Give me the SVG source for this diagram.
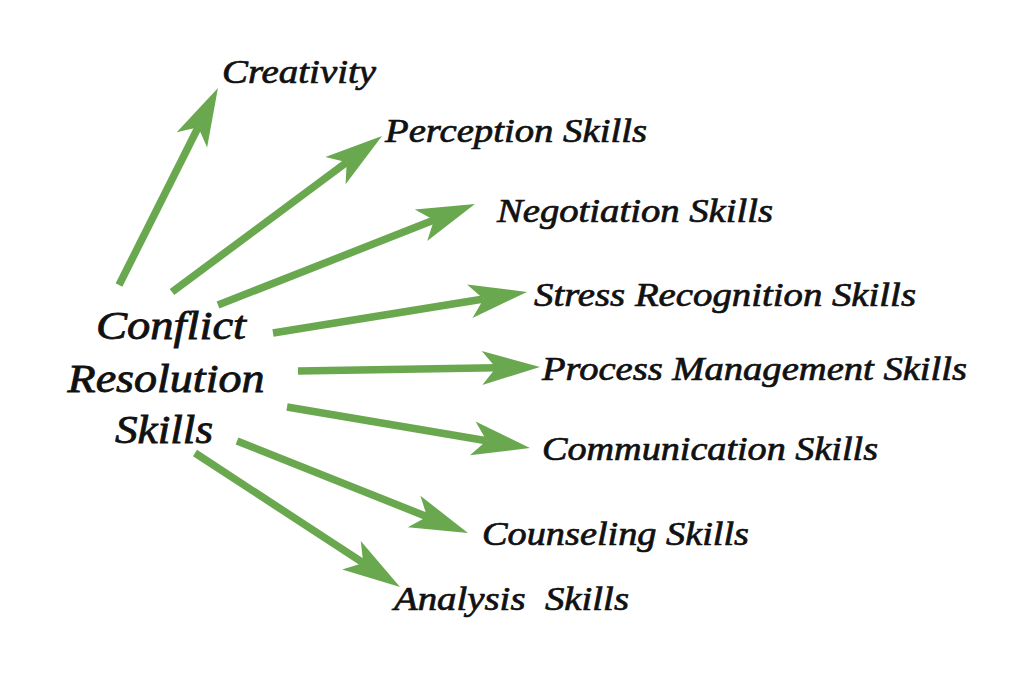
<svg xmlns="http://www.w3.org/2000/svg" width="1024" height="688" viewBox="0 0 1024 688">
<style>
.lbl{font-family:"Liberation Serif","Times New Roman",serif;font-style:italic;font-size:33px;fill:#111;stroke:#111;stroke-width:0.7;}
.ctr{font-family:"Liberation Serif","Times New Roman",serif;font-style:italic;font-size:39px;fill:#111;stroke:#111;stroke-width:0.8;text-anchor:middle;}
.arr{stroke:#6aa84f;stroke-width:7.5;fill:none;marker-end:url(#head);}
</style>
<defs>
<marker id="head" markerUnits="userSpaceOnUse" markerWidth="60" markerHeight="36" viewBox="0 -18 60 36" refX="14" refY="0" orient="auto" overflow="visible">
<path d="M0,-17 L58,0 L0,17 L14,0 Z" fill="#6aa84f"/>
</marker>
</defs>
<rect width="1024" height="688" fill="#ffffff"/>
<g id="connectors">
<line class="arr" x1="119" y1="285" x2="198.2" y2="127.3"/>
<line class="arr" x1="172" y1="292" x2="346.7" y2="162.2"/>
<line class="arr" x1="218" y1="305" x2="434" y2="220.1"/>
<line class="arr" x1="273" y1="333" x2="483.6" y2="299"/>
<line class="arr" x1="298" y1="371" x2="496" y2="367.7"/>
<line class="arr" x1="287" y1="407" x2="486.6" y2="440.7"/>
<line class="arr" x1="237" y1="441" x2="427.1" y2="516.7"/>
<line class="arr" x1="195" y1="453" x2="363.2" y2="562.9"/>
</g>
<g id="center">
<text class="ctr" x="171" y="339" textLength="150" lengthAdjust="spacingAndGlyphs">Conflict</text>
<text class="ctr" x="166" y="392" textLength="197" lengthAdjust="spacingAndGlyphs">Resolution</text>
<text class="ctr" x="164" y="443" textLength="98" lengthAdjust="spacingAndGlyphs">Skills</text>
</g>
<g id="n1"><text class="lbl" x="222" y="83" textLength="154" lengthAdjust="spacingAndGlyphs">Creativity</text></g>
<g id="n2"><text class="lbl" x="385" y="142" textLength="262" lengthAdjust="spacingAndGlyphs">Perception Skills</text></g>
<g id="n3"><text class="lbl" x="497" y="222" textLength="276" lengthAdjust="spacingAndGlyphs">Negotiation Skills</text></g>
<g id="n4"><text class="lbl" x="534" y="306" textLength="382" lengthAdjust="spacingAndGlyphs">Stress Recognition Skills</text></g>
<g id="n5"><text class="lbl" x="542" y="380" textLength="425" lengthAdjust="spacingAndGlyphs">Process Management Skills</text></g>
<g id="n6"><text class="lbl" x="542" y="460" textLength="336" lengthAdjust="spacingAndGlyphs">Communication Skills</text></g>
<g id="n7"><text class="lbl" x="482" y="545" textLength="267" lengthAdjust="spacingAndGlyphs">Counseling Skills</text></g>
<g id="n8"><text class="lbl" x="394" y="610" textLength="235" lengthAdjust="spacingAndGlyphs" xml:space="preserve">Analysis  Skills</text></g>
</svg>
